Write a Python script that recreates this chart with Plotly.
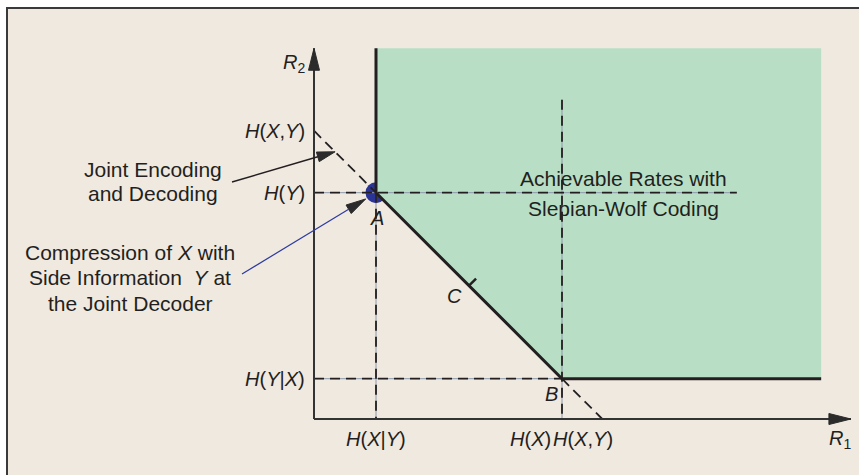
import math
import plotly.graph_objects as go

# ---------------- data (chart units) ----------------
H_X_given_Y = 1.0      # H(X|Y)
H_X = 4.0              # H(X)
H_Y_given_X = 0.65     # H(Y|X)
H_Y = 3.65             # H(Y)
H_XY = 4.65            # H(X,Y)
R1_axis_end = 8.66
R2_axis_end = 5.98
region_right = 8.18
HY_guide_end = 6.82
HX_guide_top = 5.15
C_fraction = 0.5

y_tick_values = [H_XY, H_Y, H_Y_given_X]
y_tick_labels = ["<i>H</i>(<i>X</i>,<i>Y</i>)", "<i>H</i>(<i>Y</i>)", "<i>H</i>(<i>Y</i>|<i>X</i>)"]

# ---------------- layout geometry ----------------
W, H = 859, 475
X0, Y0, S = 314.0, 419.0, 62.0   # origin pixel and pixels per unit


def to_px(x, y):
    return X0 + S * x, Y0 - S * y


def to_data(xp, yp):
    return (xp - X0) / S, (Y0 - yp) / S


INK = "#231f20"
BEIGE = "#f0e9e0"
GREEN = "#b8dfc6"
GRAY = "#8c98ab"
FONT = "Liberation Sans, Arial, sans-serif"

fig = go.Figure()

# blue dot at A (under the region)
fig.add_trace(go.Scatter(x=[H_X_given_Y], y=[H_Y], mode="markers",
                         marker=dict(size=21, color="#2b3494", line=dict(width=0)),
                         hoverinfo="skip"))

# achievable region
fig.add_trace(go.Scatter(
    x=[H_X_given_Y, H_X_given_Y, H_X, region_right, region_right, H_X_given_Y],
    y=[R2_axis_end, H_Y, H_Y_given_X, H_Y_given_X, R2_axis_end, R2_axis_end],
    mode="none", fill="toself", fillcolor=GREEN, hoverinfo="skip"))

# thin gray guide lines
gx = [0, HY_guide_end, None, H_X_given_Y, H_X_given_Y, None, 0, H_X, None, H_X, H_X]
gy = [H_Y, H_Y, None, H_Y, 0, None, H_Y_given_X, H_Y_given_X, None, HX_guide_top, 0]
fig.add_trace(go.Scatter(x=gx, y=gy, mode="lines", line=dict(color=GRAY, width=1),
                         hoverinfo="skip"))

# dashed guide lines
dx = gx + [None, 0, H_X_given_Y, None, H_X, H_XY]
dy = gy + [None, H_XY, H_Y, None, H_Y_given_X, 0]
fig.add_trace(go.Scatter(x=dx, y=dy, mode="lines",
                         line=dict(color=INK, width=1.8, dash="10px,6px"),
                         hoverinfo="skip"))

# thick boundary
fig.add_trace(go.Scatter(
    x=[H_X_given_Y, H_X_given_Y, H_X, region_right],
    y=[R2_axis_end, H_Y, H_Y_given_X, H_Y_given_X],
    mode="lines", line=dict(color=INK, width=3), hoverinfo="skip"))

# C tick mark (perpendicular to the A-B segment)
cx = H_X_given_Y + C_fraction * (H_X - H_X_given_Y)
cy = H_Y + C_fraction * (H_Y_given_X - H_Y)
tick_len = 10.0 / S / math.sqrt(2)
fig.add_trace(go.Scatter(x=[cx, cx + tick_len], y=[cy, cy + tick_len], mode="lines",
                         line=dict(color=INK, width=2.5), hoverinfo="skip"))

# axes
fig.add_trace(go.Scatter(x=[0, 0, None, 0, R1_axis_end], y=[R2_axis_end, 0, None, 0, 0],
                         mode="lines", line=dict(color="#333333", width=2), hoverinfo="skip"))


def head(tip, tail, L, Wd, color="#2b2b2b"):
    tx, ty = to_px(*tip)
    sx, sy = to_px(*tail)
    d = math.hypot(tx - sx, ty - sy)
    ux, uy = (tx - sx) / d, (ty - sy) / d
    bx, by = tx - ux * L, ty - uy * L
    px_, py_ = -uy, ux
    pts = [(tx, ty), (bx + px_ * Wd / 2, by + py_ * Wd / 2), (bx - px_ * Wd / 2, by - py_ * Wd / 2), (tx, ty)]
    data = [to_data(a, b) for a, b in pts]
    fig.add_trace(go.Scatter(x=[p[0] for p in data], y=[p[1] for p in data], mode="lines",
                             fill="toself", fillcolor=color, line=dict(color=color, width=1),
                             hoverinfo="skip"))
    return to_data(bx, by)


head((0, R2_axis_end), (0, 0), 22, 11)
head((R1_axis_end, 0), (0, 0), 22, 11)

# "Joint Encoding" arrow pointing at the diagonal
jt_x = 0.34
joint_tip = (jt_x, H_XY - jt_x)
joint_tail = to_data(232, 182)
jb = head(joint_tip, joint_tail, 18, 10)
fig.add_trace(go.Scatter(x=[joint_tail[0], jb[0]], y=[joint_tail[1], jb[1]], mode="lines",
                         line=dict(color=INK, width=1.5), hoverinfo="skip"))

# "Compression" arrow pointing at A
comp_tail = to_data(242, 274)
ax_, ay_ = to_px(H_X_given_Y, H_Y)
tx_, ty_ = to_px(*comp_tail)
dd = math.hypot(ax_ - tx_, ay_ - ty_)
stand = 12.0
comp_tip = to_data(ax_ - (ax_ - tx_) / dd * stand, ay_ - (ay_ - ty_) / dd * stand)
cb = head(comp_tip, comp_tail, 20, 10)
fig.add_trace(go.Scatter(x=[comp_tail[0], cb[0]], y=[comp_tail[1], cb[1]], mode="lines",
                         line=dict(color="#2d3aa0", width=1.2), hoverinfo="skip"))


def label(text, x, y, xanchor="center", xshift=0, yshift=0, size=21):
    fig.add_annotation(x=x, y=y, text=text, showarrow=False, xanchor=xanchor, yanchor="middle",
                       xshift=xshift, yshift=yshift,
                       font=dict(family=FONT, size=size, color=INK))


# y tick labels
for v, t in zip(y_tick_values, y_tick_labels):
    label(t, 0, v, xanchor="right", xshift=-7, size=20)

# x tick labels
label("<i>H</i>(<i>X</i>|<i>Y</i>)", H_X_given_Y, 0, yshift=-20, size=20)
label("<i>H</i>(<i>X</i>)", H_X, 0, xanchor="right", xshift=-9, yshift=-20, size=20)
label("<i>H</i>(<i>X</i>,<i>Y</i>)", H_X, 0, xanchor="left", xshift=-11, yshift=-20, size=20)

# axis names
label("<i>R</i><sub>2</sub>", 0, R2_axis_end, xshift=-20, yshift=-15, size=20)
label("<i>R</i><sub>1</sub>", R1_axis_end, 0, xshift=-11, yshift=-20, size=20)

# point labels
label("<i>A</i>", H_X_given_Y, H_Y, xshift=1, yshift=-25, size=20)
label("<i>B</i>", H_X, H_Y_given_X, xshift=-11, yshift=-15, size=20)
label("<i>C</i>", cx, cy, xshift=-15, yshift=-10, size=20)

# free text blocks (one annotation per line)
for txt, (xp, yp) in [("Joint Encoding", (152.5, 169)), ("and Decoding", (152.5, 193)),
                      ("Compression of <i>X</i> with", (130, 252)),
                      ("Side Information  <i>Y</i> at", (130, 277)),
                      ("the Joint Decoder", (130, 303)),
                      ("Achievable Rates with", (623, 178)),
                      ("Slepian-Wolf Coding", (623, 208))]:
    x, y = to_data(xp, yp)
    label(txt, x, y)

# frame
fig.add_shape(type="rect", xref="paper", yref="paper", x0=7 / W, x1=1.01, y0=-0.01,
              y1=1 - 8 / H, fillcolor=BEIGE, line=dict(width=0), layer="below")
fig.add_shape(type="line", xref="paper", yref="paper", x0=6 / W, x1=1.01, y0=1 - 8 / H,
              y1=1 - 8 / H, line=dict(color="#3a3a3a", width=2), layer="below")
fig.add_shape(type="line", xref="paper", yref="paper", x0=7 / W, x1=7 / W, y0=-0.01,
              y1=1 - 8 / H, line=dict(color="#3a3a3a", width=2), layer="below")

xr = [to_data(0, 0)[0], to_data(W, 0)[0]]
yr = [to_data(0, H)[1], to_data(0, 0)[1]]
fig.update_layout(
    width=W, height=H, autosize=False, margin=dict(l=0, r=0, t=0, b=0, pad=0),
    paper_bgcolor="white", plot_bgcolor="rgba(0,0,0,0)", showlegend=False,
    xaxis=dict(range=xr, visible=False, fixedrange=True),
    yaxis=dict(range=yr, visible=False, fixedrange=True),
)

fig.write_html("out.html", config={"displayModeBar": False},
               post_script="document.body.style.margin='0px';document.body.style.overflow='hidden';")
